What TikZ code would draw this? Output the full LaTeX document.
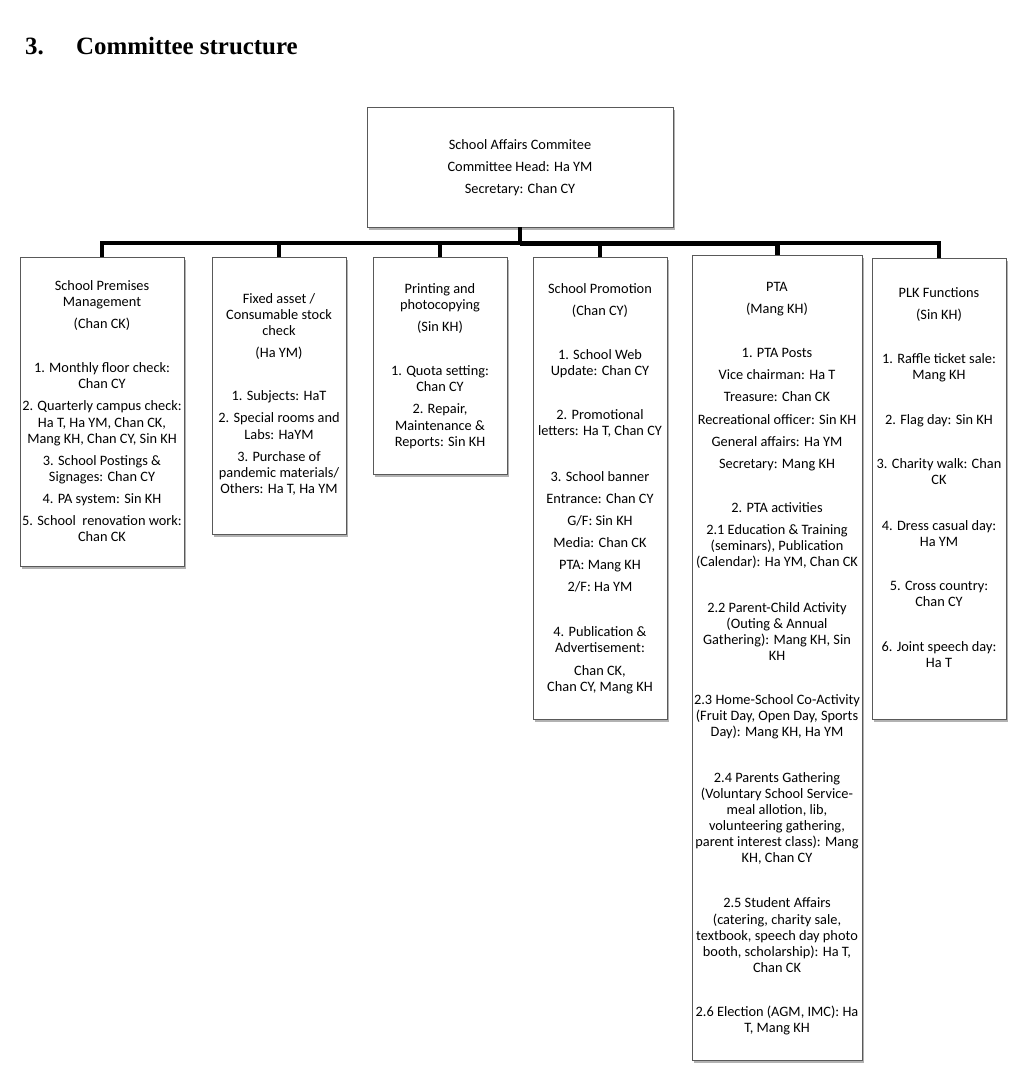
\documentclass[tikz,border=0pt]{standalone}
\usepackage{fontspec}
\setmainfont{Carlito}
\newfontfamily\titlefam{Liberation Serif}
\usetikzlibrary{shadows}
\newcommand{\gapS}{\\[6bp]}
\newcommand{\gapL}{\\[28bp]}
\tikzset{
  orgbox/.style={draw=black!65, line width=0.7bp, fill=white, inner sep=0pt, outer sep=0pt,
    drop shadow={shadow xshift=2bp, shadow yshift=-2.5bp, fill=black, opacity=0.3}},
  orgtext/.style={anchor=north, align=center, inner sep=0pt, font=\fontsize{14.4}{16.2}\selectfont, text=black},
  conn/.style={line width=4bp, black, line join=miter},
  titletext/.style={anchor=base west, inner sep=0pt, font=\titlefam\bfseries\fontsize{25}{30}\selectfont}
}
\begin{document}
\begin{tikzpicture}[x=1bp, y=-1bp]
\useasboundingbox (0,0) rectangle (1032,1084);
% title
\node[titletext] (num) at (25,54) {3.};
\node[titletext] (ttl) at (76,54) {Committee structure};
% boxes
\node[orgbox, minimum width=306bp, minimum height=120bp] (top) at (520,167) {};
\node[orgbox, minimum width=164bp, minimum height=309bp] (b1) at (102,411.5) {};
\node[orgbox, minimum width=134bp, minimum height=277bp] (b2) at (279,395.5) {};
\node[orgbox, minimum width=134bp, minimum height=217bp] (b3) at (440,365.5) {};
\node[orgbox, minimum width=134bp, minimum height=462bp] (b4) at (600,488) {};
\node[orgbox, minimum width=170bp, minimum height=805bp] (b5) at (777,657.5) {};
\node[orgbox, minimum width=134bp, minimum height=461bp] (b6) at (939,488.5) {};
% connectors
\coordinate (j) at (520,243);
\draw[conn] (top.south) -- (j);
\draw[conn] (j) -| (b1.north);
\draw[conn] (j) -| (b2.north);
\draw[conn] (j) -| (b3.north);
\draw[conn] (j) -| (b4.north);
\draw[conn, line width=5bp] (j) -| (b5.north);
\draw[conn] (j) -| (b6.north);
% texts
\node[orgtext] (ttop) at (520,139) {School Affairs Commitee\gapS Committee Head: Ha YM\gapS Secretary: Chan CY};
\node[orgtext] (t1) at (102,280) {School Premises\\Management\gapS (Chan CK)\gapL
1. Monthly floor check:\\Chan CY\gapS
2. Quarterly campus check:\\Ha T, Ha YM, Chan CK,\\Mang KH, Chan CY, Sin KH\gapS
3. School Postings \&\\Signages: Chan CY\gapS
4. PA system: Sin KH\gapS
5. School\ \ renovation work:\\Chan CK};
\node[orgtext] (t2) at (279,293) {Fixed asset /\\Consumable stock\\check\gapS (Ha YM)\\[27bp]
1. Subjects: HaT\gapS
2. Special rooms and\\Labs: HaYM\gapS
3. Purchase of\\pandemic materials/\\Others: Ha T, Ha YM};
\node[orgtext] (t3) at (440,283) {Printing and\\photocopying\gapS (Sin KH)\gapL
1. Quota setting:\\Chan CY\gapS
2. Repair,\\Maintenance \&\\Reports: Sin KH};
\node[orgtext] (t4) at (600,283) {School Promotion\gapS (Chan CY)\gapL
1. School Web\\Update: Chan CY\gapL
2. Promotional\\letters: Ha T, Chan CY\\[29bp]
3. School banner\gapS
Entrance: Chan CY\gapS
G/F: Sin KH\gapS
Media: Chan CK\gapS
PTA: Mang KH\gapS
2/F: Ha YM\\[29bp]
4. Publication \&\\Advertisement:\gapS
Chan CK,\\Chan CY, Mang KH};
\node[orgtext] (t5) at (777,282) {PTA\gapS (Mang KH)\gapL
1. PTA Posts\gapS
Vice chairman: Ha T\gapS
Treasure: Chan CK\gapS
Recreational officer: Sin KH\gapS
General affairs: Ha YM\gapS
Secretary: Mang KH\gapL
2. PTA activities\gapS
2.1 Education \& Training\\(seminars), Publication\\(Calendar): Ha YM, Chan CK\\[29bp]
2.2 Parent-Child Activity\\(Outing \& Annual\\Gathering): Mang KH, Sin\\KH\gapL
2.3 Home-School Co-Activity\\(Fruit Day, Open Day, Sports\\Day): Mang KH, Ha YM\\[29bp]
2.4 Parents Gathering\\(Voluntary School Service-\\meal allotion, lib,\\volunteering gathering,\\parent interest class): Mang\\KH, Chan CY\\[29bp]
2.5 Student Affairs\\(catering, charity sale,\\textbook, speech day photo\\booth, scholarship): Ha T,\\Chan CK\gapL
2.6 Election (AGM, IMC): Ha\\T, Mang KH};
\node[orgtext] (t6) at (939,287) {PLK Functions\gapS (Sin KH)\gapL
1. Raffle ticket sale:\\Mang KH\\[29bp]
2. Flag day: Sin KH\gapL
3. Charity walk: Chan\\CK\\[29bp]
4. Dress casual day:\\Ha YM\gapL
5. Cross country:\\Chan CY\\[29bp]
6. Joint speech day:\\Ha T};
\end{tikzpicture}
\end{document}
